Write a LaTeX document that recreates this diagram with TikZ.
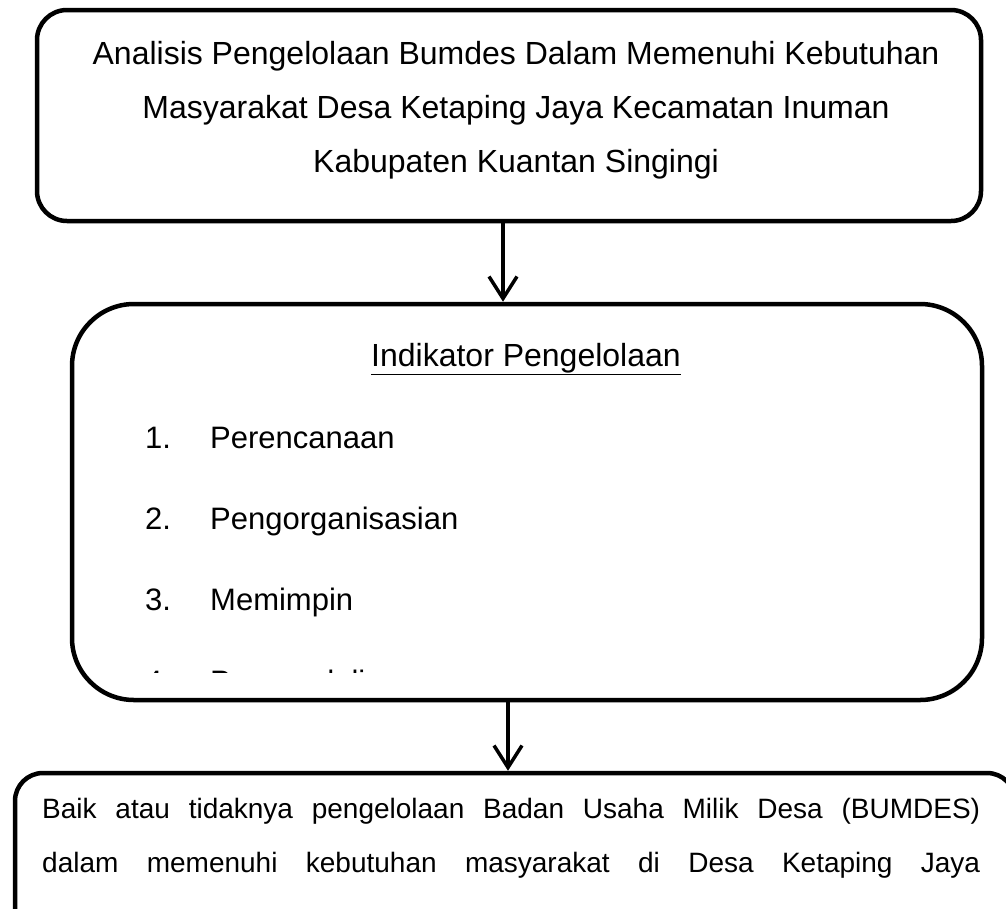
\documentclass[tikz,border=0pt]{standalone}
\usepackage{fontspec}
\setmainfont{Liberation Sans}
\usetikzlibrary{arrows.meta}
\begin{document}
\begin{tikzpicture}[x=1pt,y=-1pt,
  box/.style={draw=black, line width=4.5pt, inner sep=0pt},
  conn/.style={draw=black, line width=3.5pt, -{Straight Barb[length=22pt,width=28pt]}},
  titletxt/.style={anchor=base, inner sep=0pt, font=\fontsize{32}{38}\selectfont},
  listtxt/.style={anchor=base west, inner sep=0pt, font=\fontsize{31}{36}\selectfont},
  bottxt/.style={anchor=base west, inner sep=0pt, font=\fontsize{28}{34}\selectfont}
]
\useasboundingbox (0,0) rectangle (1006,908);
% boxes
\node[box, rounded corners=30pt, minimum width=944pt, minimum height=211pt] (b1) at (509,115.5) {};
\node[box, rounded corners=62pt, minimum width=910pt, minimum height=396pt] (b2) at (527,502) {};
\node[box, rounded corners=28pt, minimum width=1000pt, minimum height=240pt] (b3) at (515,893) {};
% title
\node[titletxt] (t1) at (516,64) {Analisis Pengelolaan Bumdes Dalam Memenuhi Kebutuhan};
\node[titletxt] (t2) at (516,118) {Masyarakat Desa Ketaping Jaya Kecamatan Inuman};
\node[titletxt] (t3) at (516,172) {Kabupaten Kuantan Singingi};
% middle
\node[titletxt] (h) at (526,366) {\underline{Indikator Pengelolaan}};
\node[listtxt] (n1) at (145,448) {1.};
\node[listtxt] (i1) at (210,448) {Perencanaan};
\node[listtxt] (n2) at (145,529) {2.};
\node[listtxt] (i2) at (210,529) {Pengorganisasian};
\node[listtxt] (n3) at (145,610) {3.};
\node[listtxt] (i3) at (210,610) {Memimpin};
\begin{scope}
\clip (0,0) rectangle (1006,672);
\node[listtxt] (n4) at (145,692) {4.};
\node[listtxt] (i4) at (210,692) {Pengendalian};
\end{scope}
% bottom
\node[bottxt] (l1) at (42,818) {\makebox[938pt][s]{Baik atau tidaknya pengelolaan Badan Usaha Milik Desa (BUMDES)}};
\node[bottxt] (l2) at (42,872) {\makebox[938pt][s]{dalam memenuhi kebutuhan masyarakat di Desa Ketaping Jaya}};
% connectors
\coordinate (a1) at (503,0);
\coordinate (a2) at (508,0);
\draw[conn] (b1.south -| a1) -- (b2.north -| a1);
\draw[conn] (b2.south -| a2) -- (b3.north -| a2);
\end{tikzpicture}
\end{document}
